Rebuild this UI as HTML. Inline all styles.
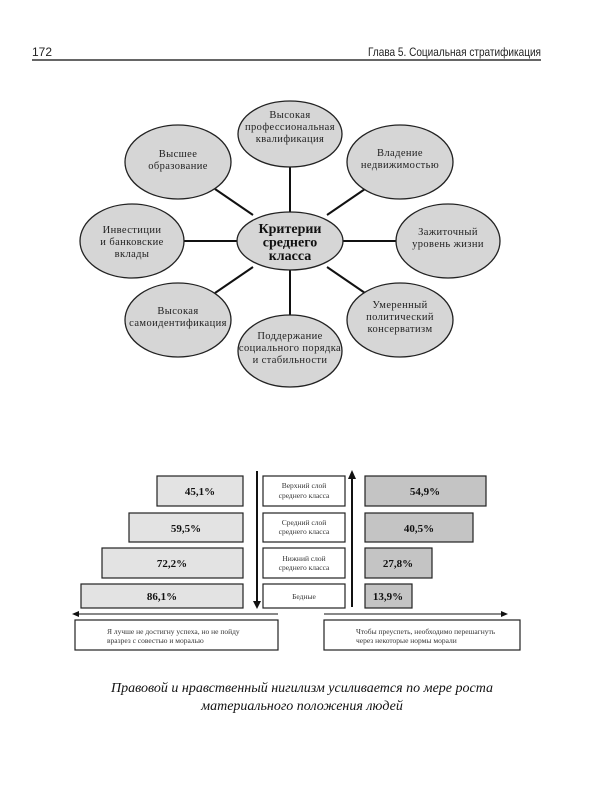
<!DOCTYPE html>
<html><head><meta charset="utf-8"><style>
body{margin:0;background:#fff;}
svg{display:block}
</style></head><body>
<svg width="600" height="800" xmlns="http://www.w3.org/2000/svg">
<g font-family="Liberation Sans, sans-serif" font-size="12" fill="#222">
<text x="32" y="56" textLength="20" lengthAdjust="spacingAndGlyphs">172</text>
<text x="368" y="56" textLength="173" lengthAdjust="spacingAndGlyphs">Глава 5. Социальная стратификация</text>
</g>
<line x1="32" y1="60" x2="541" y2="60" stroke="#333" stroke-width="1.5"/>

<g stroke="#111" stroke-width="2">
<line x1="290" y1="167" x2="290" y2="213"/>
<line x1="290" y1="270" x2="290" y2="315"/>
<line x1="184" y1="241" x2="237" y2="241"/>
<line x1="343" y1="241" x2="396" y2="241"/>
<line x1="215" y1="189" x2="253" y2="215"/>
<line x1="365" y1="189" x2="327" y2="215"/>
<line x1="215" y1="293" x2="253" y2="267"/>
<line x1="365" y1="293" x2="327" y2="267"/>
</g>
<g fill="#d6d6d6" stroke="#222" stroke-width="1.3">
<ellipse cx="290" cy="134" rx="52" ry="33"/>
<ellipse cx="178" cy="162" rx="53" ry="37"/>
<ellipse cx="400" cy="162" rx="53" ry="37"/>
<ellipse cx="132" cy="241" rx="52" ry="37"/>
<ellipse cx="448" cy="241" rx="52" ry="37"/>
<ellipse cx="178" cy="320" rx="53" ry="37"/>
<ellipse cx="400" cy="320" rx="53" ry="37"/>
<ellipse cx="290" cy="351" rx="52" ry="36"/>
<ellipse cx="290" cy="241" rx="53" ry="29"/>
</g>
<g font-family="Liberation Serif, serif" font-size="10.5" fill="#222" text-anchor="middle" letter-spacing="0.4">
<text x="290" y="118">Высокая</text><text x="290" y="130">профессиональная</text><text x="290" y="142">квалификация</text>
<text x="178" y="157">Высшее</text><text x="178" y="169">образование</text>
<text x="400" y="156">Владение</text><text x="400" y="168">недвижимостью</text>
<text x="132" y="233">Инвестиции</text><text x="132" y="245">и банковские</text><text x="132" y="257">вклады</text>
<text x="448" y="235">Зажиточный</text><text x="448" y="247">уровень жизни</text>
<text x="178" y="314">Высокая</text><text x="178" y="326">самоидентификация</text>
<text x="400" y="308">Умеренный</text><text x="400" y="320">политический</text><text x="400" y="332">консерватизм</text>
<text x="290" y="339">Поддержание</text><text x="290" y="351">социального порядка</text><text x="290" y="363">и стабильности</text>
</g>
<g font-family="Liberation Serif, serif" font-size="14" font-weight="bold" fill="#111" text-anchor="middle">
<text x="290" y="233">Критерии</text><text x="290" y="246.5">среднего</text><text x="290" y="260">класса</text>
</g>

<g stroke="#222" stroke-width="1.2">
<rect x="157" y="476" width="86" height="30" fill="#e3e3e3"/>
<rect x="129" y="513" width="114" height="29" fill="#e3e3e3"/>
<rect x="102" y="548" width="141" height="30" fill="#e3e3e3"/>
<rect x="81" y="584" width="162" height="24" fill="#e3e3e3"/>
<rect x="263" y="476" width="82" height="30" fill="#fff"/>
<rect x="263" y="513" width="82" height="29" fill="#fff"/>
<rect x="263" y="548" width="82" height="30" fill="#fff"/>
<rect x="263" y="584" width="82" height="24" fill="#fff"/>
<rect x="365" y="476" width="121" height="30" fill="#c4c4c4"/>
<rect x="365" y="513" width="108" height="29" fill="#c4c4c4"/>
<rect x="365" y="548" width="67" height="30" fill="#c4c4c4"/>
<rect x="365" y="584" width="47" height="24" fill="#c4c4c4"/>
<rect x="75" y="620" width="203" height="30" fill="#fff"/>
<rect x="324" y="620" width="196" height="30" fill="#fff"/>
</g>
<g stroke="#111" stroke-width="2">
<line x1="257" y1="471" x2="257" y2="602"/>
<line x1="352" y1="478" x2="352" y2="607"/>
</g>
<polygon points="253,601 261,601 257,609" fill="#111"/>
<polygon points="348,479 356,479 352,470" fill="#111"/>
<g stroke="#111" stroke-width="1">
<line x1="76" y1="614" x2="278" y2="614"/>
<line x1="324" y1="614" x2="504" y2="614"/>
</g>
<polygon points="72,614 79,611 79,617" fill="#111"/>
<polygon points="508,614 501,611 501,617" fill="#111"/>
<g font-family="Liberation Serif, serif" font-size="11" font-weight="bold" fill="#111" text-anchor="middle">
<text x="200" y="495">45,1%</text><text x="186" y="532">59,5%</text><text x="172" y="567">72,2%</text><text x="162" y="600">86,1%</text>
<text x="425" y="495">54,9%</text><text x="419" y="532">40,5%</text><text x="398" y="567">27,8%</text><text x="388" y="600">13,9%</text>
</g>
<g font-family="Liberation Serif, serif" font-size="7.5" fill="#333" text-anchor="middle">
<text x="304" y="488">Верхний слой</text><text x="304" y="498">среднего класса</text>
<text x="304" y="525">Средний слой</text><text x="304" y="534">среднего класса</text>
<text x="304" y="561">Нижний слой</text><text x="304" y="570">среднего класса</text>
<text x="304" y="599">Бедные</text>
</g>
<g font-family="Liberation Serif, serif" font-size="7.5" fill="#333">
<text x="107" y="634">Я лучше не достигну успеха, но не пойду</text>
<text x="107" y="643">вразрез с совестью и моралью</text>
<text x="356" y="634">Чтобы преуспеть, необходимо перешагнуть</text>
<text x="356" y="643">через некоторые нормы морали</text>
</g>
<g font-family="Liberation Serif, serif" font-size="14" font-style="italic" fill="#111" text-anchor="middle">
<text x="302" y="692">Правовой и нравственный нигилизм усиливается по мере роста</text>
<text x="302" y="710">материального положения людей</text>
</g>
</svg>
</body></html>
